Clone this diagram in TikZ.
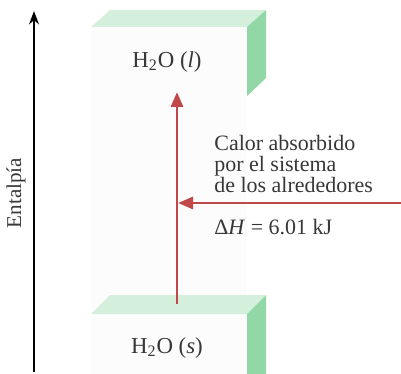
\documentclass[tikz,border=0pt]{standalone}
\usepackage{fontspec}
\setmainfont{Liberation Serif}
\usetikzlibrary{arrows.meta}

\definecolor{verdelado}{RGB}{145,216,166}
\definecolor{verdetapa}{RGB}{212,240,220}
\definecolor{frente}{RGB}{251,252,251}
\definecolor{rojo}{RGB}{192,72,72}
\definecolor{gristexto}{RGB}{55,55,55}

\tikzset{
  eje/.style={draw=black, line width=0.7pt, -{Stealth[length=0.27cm, width=0.2cm]}},
  flecha/.style={draw=rojo, line width=1.7pt, -{Triangle[length=0.3cm, width=0.24cm]}},
  etiqueta/.style={text=gristexto, font=\fontsize{13}{14}\selectfont},
  texto/.style={text=gristexto, font=\fontsize{12.5}{12}\selectfont, inner sep=0pt}
}

\begin{document}
\begin{tikzpicture}[x=0.02cm, y=-0.02cm]

    \useasboundingbox (0,0) rectangle (401,374);

    % Bloques
    \fill[frente] (91,27) rectangle (247,374);
    \fill[verdetapa] (91,27) -- (110,10) -- (266,10) -- (247,27) -- cycle;
    \fill[verdelado] (247,27) -- (266,10) -- (266,78) -- (247,96) -- cycle;
    \fill[verdetapa] (91,314) -- (110,295) -- (266,295) -- (247,314) -- cycle;
    \fill[verdelado] (247,314) -- (266,295) -- (266,374) -- (247,374) -- cycle;

    % Nodos
    \node[etiqueta] (liq) at (167,62)  {H\textsubscript{2}O (\textit{l})};
    \node[etiqueta] (sol) at (167,348) {H\textsubscript{2}O (\textit{s})};
    \node[texto, anchor=west, align=left] (calor) at (214,164)
        {Calor absorbido\\por el sistema\\de los alrededores};
    \node[texto, anchor=west] (dh) at (214,227) {Δ\textit{H} = 6.01 kJ};

    % Eje de entalpía
    \coordinate (ejeA) at (34,372);
    \coordinate (ejeB) at (34,11);
    \draw[eje] (ejeA) -- (ejeB);
    \node[etiqueta, rotate=90, font=\fontsize{12}{13}\selectfont] (ental) at (16,193) {Entalpía};

    % Flechas rojas
    \coordinate (subeA) at (177,304);
    \coordinate (subeB) at (177,92);
    \draw[flecha] (subeA) -- (subeB);
    \coordinate (calorA) at (401,203);
    \coordinate (calorB) at (178,203);
    \draw[flecha] (calorA) -- (calorB);

\end{tikzpicture}
\end{document}
